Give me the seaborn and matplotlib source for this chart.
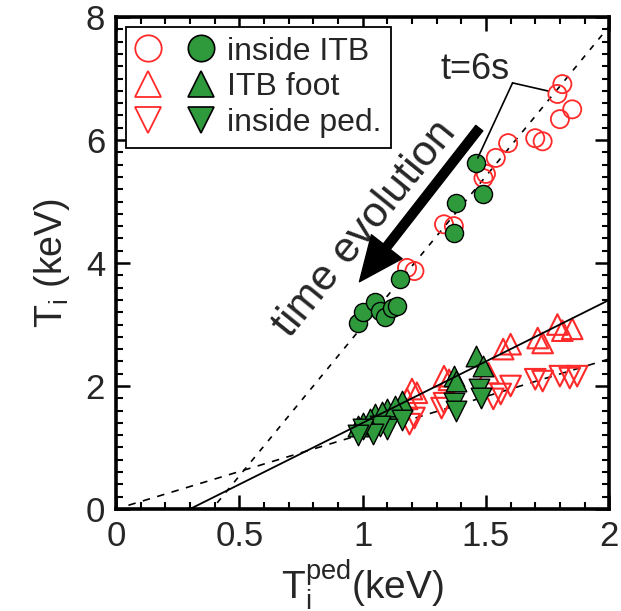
import numpy as np
import pandas as pd
import matplotlib
matplotlib.use("Agg")
import matplotlib.pyplot as plt
import seaborn as sns
from matplotlib.lines import Line2D
from matplotlib.legend_handler import HandlerTuple
from matplotlib.ticker import MultipleLocator
from matplotlib.patches import FancyArrowPatch

# ---- measured ion temperatures (keV) vs pedestal temperature (keV) ----
itb_open_x = [1.81, 1.79, 1.85, 1.80, 1.73, 1.70, 1.59, 1.54, 1.50, 1.49, 1.33, 1.37, 1.18, 1.21]
itb_open_y = [6.91, 6.75, 6.50, 6.34, 5.98, 6.03, 5.95, 5.71, 5.45, 5.38, 4.63, 4.60, 3.92, 3.87]
itb_fill_x = [1.46, 1.49, 1.38, 1.37, 1.15, 0.98, 1.00, 1.05, 1.07, 1.09, 1.12, 1.14]
itb_fill_y = [5.63, 5.12, 4.98, 4.49, 3.74, 3.02, 3.20, 3.37, 3.22, 3.12, 3.27, 3.30]

foot_open_x = [1.79, 1.85, 1.81, 1.71, 1.73, 1.60, 1.57, 1.51, 1.33, 1.35, 1.20, 1.22, 1.18]
foot_open_y = [3.00, 2.93, 2.90, 2.78, 2.70, 2.68, 2.60, 2.21, 2.16, 2.10, 1.95, 1.89, 1.79]
foot_fill_x = [1.46, 1.49, 1.37, 1.38, 1.16, 1.10, 1.05, 1.00, 0.98, 1.03, 1.08, 1.13]
foot_fill_y = [2.49, 2.33, 2.16, 2.08, 1.76, 1.63, 1.54, 1.40, 1.35, 1.46, 1.58, 1.68]

ped_open_x = [1.87, 1.84, 1.80, 1.73, 1.70, 1.60, 1.56, 1.53, 1.33, 1.32, 1.21, 1.19]
ped_open_y = [2.16, 2.13, 2.16, 2.08, 2.11, 2.00, 1.87, 1.79, 1.72, 1.64, 1.48, 1.38]
ped_fill_x = [1.47, 1.48, 1.37, 1.38, 1.16, 1.10, 1.07, 1.04, 1.00, 0.98]
ped_fill_y = [1.95, 1.80, 1.72, 1.59, 1.45, 1.30, 1.35, 1.22, 1.30, 1.20]

# linear fits (end points)
fit_itb_x = [0.41, 2.00]
fit_itb_y = [0.10, 7.85]
fit_foot_x = [0.30, 2.00]
fit_foot_y = [0.00, 3.40]
fit_ped_x = [0.05, 2.00]
fit_ped_y = [0.06, 2.44]

legend_labels = ["inside ITB", "ITB foot", "inside ped."]
x_ticks = [0, 0.5, 1, 1.5, 2]
y_ticks = [0, 2, 4, 6, 8]

RED = "#ff2a2a"
GREEN = "#2e9a3c"

sns.set_theme(style="white")
plt.rcParams["font.family"] = ["Liberation Sans", "DejaVu Sans"]
plt.rcParams["mathtext.fontset"] = "custom"
plt.rcParams["mathtext.rm"] = "Liberation Sans"

fig = plt.figure(figsize=(6.21, 6.11), dpi=100)
ax = fig.add_axes([0.187, 0.167, 0.794, 0.805])

# fit lines
sns.lineplot(x=fit_itb_x, y=fit_itb_y, ax=ax, color="black", lw=1.2,
             linestyle=(0, (3.5, 4.5)), zorder=1)
sns.lineplot(x=fit_ped_x, y=fit_ped_y, ax=ax, color="black", lw=1.2,
             linestyle=(0, (4.5, 4.5)), zorder=1)
sns.lineplot(x=fit_foot_x, y=fit_foot_y, ax=ax, color="black", lw=1.3, zorder=4)

ms_c = 170
ms_t = 220
# open (red) symbols
sns.scatterplot(x=itb_open_x, y=itb_open_y, ax=ax, marker="o", s=ms_c,
                facecolor="none", edgecolor=RED, linewidth=1.3, zorder=2)
sns.scatterplot(x=foot_open_x, y=foot_open_y, ax=ax, marker="^", s=ms_t,
                facecolor="none", edgecolor=RED, linewidth=1.5, zorder=2)
sns.scatterplot(x=ped_open_x, y=ped_open_y, ax=ax, marker="v", s=ms_t,
                facecolor="none", edgecolor=RED, linewidth=1.5, zorder=2)
# filled (green) symbols
sns.scatterplot(x=itb_fill_x, y=itb_fill_y, ax=ax, marker="o", s=ms_c,
                color=GREEN, edgecolor="black", linewidth=1.0, zorder=3)
sns.scatterplot(x=foot_fill_x, y=foot_fill_y, ax=ax, marker="^", s=ms_t,
                color=GREEN, edgecolor="black", linewidth=1.0, zorder=3)
sns.scatterplot(x=ped_fill_x, y=ped_fill_y, ax=ax, marker="v", s=ms_t,
                color=GREEN, edgecolor="black", linewidth=1.0, zorder=3)

ax.set_xlim(0, 2)
ax.set_ylim(0, 8)
ax.set_xticks(x_ticks)
ax.set_xticklabels(["0", "0.5", "1", "1.5", "2"])
ax.set_yticks(y_ticks)
ax.xaxis.set_minor_locator(MultipleLocator(0.1))
ax.yaxis.set_minor_locator(MultipleLocator(0.2))
ax.tick_params(which="both", direction="in", top=True, right=True,
               bottom=True, left=True, color="black")
ax.tick_params(which="major", length=10, width=1.8, labelsize=25, pad=8)
ax.tick_params(which="minor", length=5, width=1.5)
for sp in ax.spines.values():
    sp.set_linewidth(2.6)
    sp.set_color("black")

ax.set_xlabel(r"T$_\mathregular{i}^\mathregular{ped}$(keV)", fontsize=28, labelpad=3)
ax.set_ylabel(r"T$_\mathregular{i}$ (keV)", fontsize=27, labelpad=10)

# legend: open and filled symbol side by side
def mk(marker, fill):
    if fill:
        return Line2D([], [], ls="none", marker=marker, ms=19, mfc=GREEN,
                      mec="black", mew=1.2)
    return Line2D([], [], ls="none", marker=marker, ms=19, mfc="none",
                  mec=RED, mew=1.3)

handles = [(mk("o", False), mk("o", True)),
           (mk("^", False), mk("^", True)),
           (mk("v", False), mk("v", True))]
leg = ax.legend(handles, legend_labels, handler_map={tuple: HandlerTuple(ndivide=None, pad=0.9)},
                loc="upper left", bbox_to_anchor=(0.008, 0.993), fontsize=23,
                frameon=True, fancybox=False, edgecolor="black", framealpha=1,
                handlelength=2.4, handletextpad=0.45, borderpad=0.3,
                labelspacing=0.18, borderaxespad=0.2)
leg.get_frame().set_linewidth(1.3)

# annotation t=6s
ax.text(1.455, 7.14, "t=6s", fontsize=26, ha="center", va="center")
ax.plot([1.608, 1.75], [6.93, 6.80], color="black", lw=1.2, zorder=5)
ax.plot([1.608, 1.467], [6.93, 5.71], color="black", lw=1.2, zorder=5)

# time evolution arrow
arrow = FancyArrowPatch((1.48, 6.23), (0.98, 3.66),
                        arrowstyle="simple,head_length=1.6,head_width=1.4,tail_width=0.32",
                        mutation_scale=20, color="black", zorder=5)
ax.add_patch(arrow)
ax.text(1.01, 4.55, "time evolution", fontsize=31, rotation=51,
        ha="center", va="center")

fig.savefig("out.png", dpi=100)
